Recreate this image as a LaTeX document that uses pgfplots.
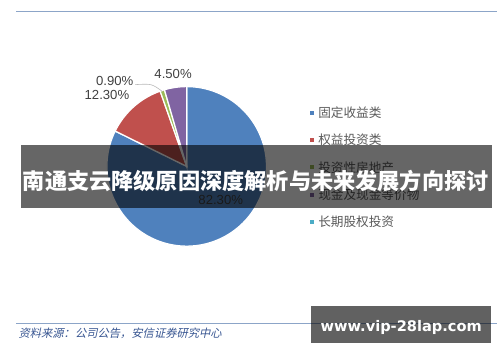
\documentclass[border=0pt]{standalone}
\usepackage{pgfplots}
\pgfplotsset{compat=1.18}
\usepackage{pgfplotstable}
\usepackage{fontspec}
\setmainfont{Liberation Sans}
\newfontfamily\cjk{Noto Sans CJK SC}
\newfontfamily\cjksl[FakeSlant=0.22]{Noto Sans CJK SC}
\newfontfamily\web{DejaVu Sans}
\definecolor{pblue}{RGB}{79,129,189}
\definecolor{pred}{RGB}{192,80,77}
\definecolor{pgreen}{RGB}{155,187,89}
\definecolor{ppurple}{RGB}{128,100,162}
\definecolor{pteal}{RGB}{75,172,198}
\definecolor{linec}{RGB}{140,165,200}
\definecolor{srcc}{RGB}{55,85,145}
\definecolor{labc}{RGB}{64,64,64}
\definecolor{legc}{RGB}{89,89,89}
% shares (%): fixed income, equity, investment property, cash, long-term equity
\def\vA{82.3}\def\vB{12.3}\def\vC{0.9}\def\vD{4.5}\def\vE{0}
\begin{document}
\pgfmathsetmacro\aA{90}
\pgfmathsetmacro\aB{\aA-3.6*\vA}
\pgfmathsetmacro\aC{\aB-3.6*\vB}
\pgfmathsetmacro\aD{\aC-3.6*\vC}
\pgfmathsetmacro\aE{\aD-3.6*\vD}
\begin{tikzpicture}[x=1pt,y=1pt]
\path[use as bounding box] (0,0) rectangle (500,362);
\draw[linec, line width=0.9pt] (3,350) -- (497,350);
\draw[linec, line width=0.9pt] (3,30) -- (497,30);
\begin{axis}[at={(178pt,191pt)}, anchor=center, scale only axis,
  width=164pt, height=164pt, xmin=-1, xmax=1, ymin=-1, ymax=1,
  hide axis, clip=false]
\addplot[fill=pblue, draw=white, line width=1.3pt, domain=\aB:\aA, samples=150, variable=\t] ({cos(\t)},{sin(\t)}) -- (axis cs:0,0) -- cycle;
\addplot[fill=pred, draw=white, line width=1.3pt, domain=\aC:\aB, samples=40, variable=\t] ({cos(\t)},{sin(\t)}) -- (axis cs:0,0) -- cycle;
\addplot[fill=pgreen, draw=white, line width=1.3pt, domain=\aD:\aC, samples=10, variable=\t] ({cos(\t)},{sin(\t)}) -- (axis cs:0,0) -- cycle;
\addplot[fill=ppurple, draw=white, line width=1.3pt, domain=\aE:\aD, samples=20, variable=\t] ({cos(\t)},{sin(\t)}) -- (axis cs:0,0) -- cycle;
\end{axis}
% data labels
\begin{scope}[every node/.style={text=labc, font=\fontsize{13.5}{15}\selectfont, inner sep=0pt}]
\node at (164,286) {4.50\%};
\node at (104,279) {0.90\%};
\node at (96,264) {12.30\%};
\node at (213,156) {82.30\%};
\end{scope}
\draw[gray!55, line width=0.6pt] (125,275) .. controls (142,276) .. (153,268);
% legend
\begin{scope}[every node/.style={text=legc, anchor=west, inner sep=0pt, font=\cjk\fontsize{13}{15}\selectfont}]
\fill[pblue] (305,244) rectangle ++(4,4); \node at (313,246) {固定收益类};
\fill[pred] (305,216) rectangle ++(4,4); \node at (313,218) {权益投资类};
\fill[pgreen] (305,188) rectangle ++(4,4); \node at (313,190) {投资性房地产};
\fill[ppurple] (305,160) rectangle ++(4,4); \node at (313,162) {现金及现金等价物};
\fill[pteal] (305,132) rectangle ++(4,4); \node at (313,134) {长期股权投资};
\end{scope}
% banner
\fill[black, opacity=0.6] (8,148) rectangle (492,213);
\node[text=white, inner sep=0pt, font=\cjk\bfseries\fontsize{22.8}{26}\selectfont] at (249,176) {南通支云降级原因深度解析与未来发展方向探讨};
% source
\node[anchor=west, inner sep=0pt, text=srcc, font=\cjksl\fontsize{11.6}{13}\selectfont] at (5,19) {资料来源：公司公告，安信证券研究中心};
% watermark
\fill[black, opacity=0.62] (306,9) rectangle (491,47);
\node[text=white, inner sep=0pt, font=\web\bfseries\fontsize{15}{17}\selectfont] at (398.5,25) {www.vip-28lap.com};
\end{tikzpicture}
\end{document}
